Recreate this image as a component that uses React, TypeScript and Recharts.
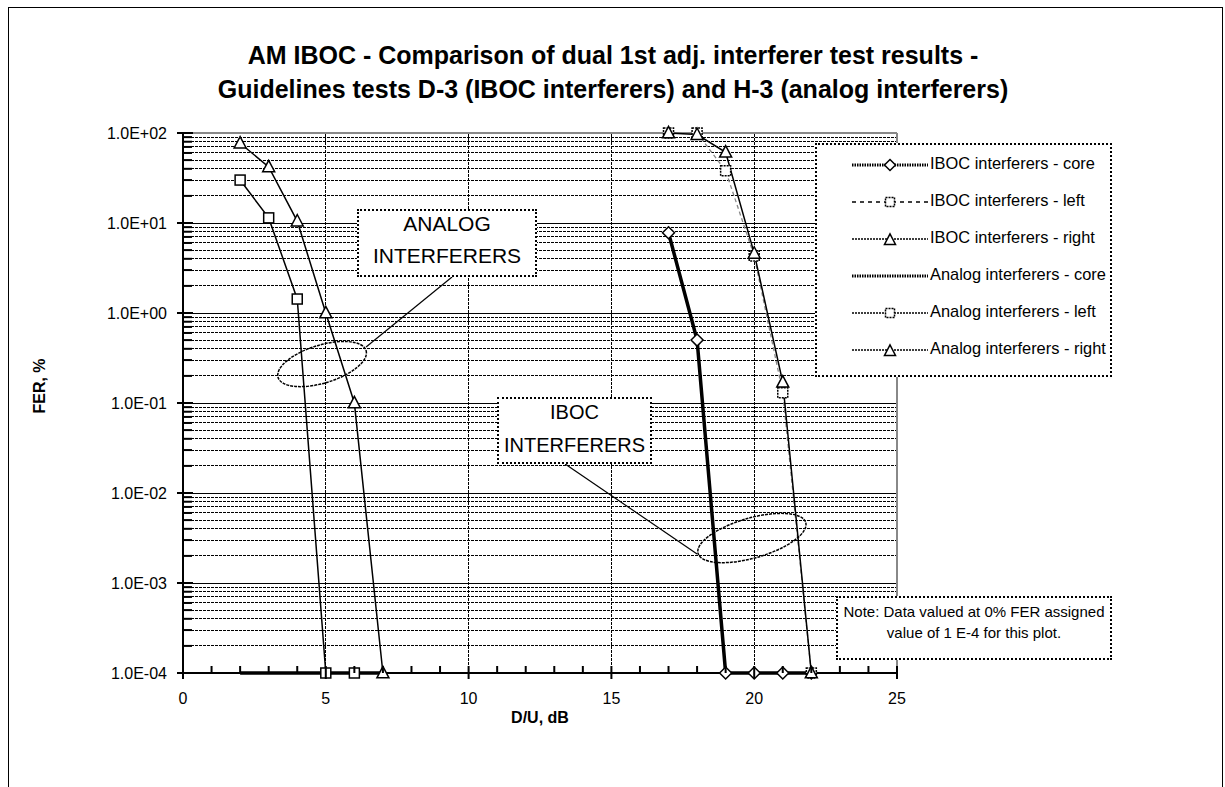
import React from 'react';
import { LineChart, Line, XAxis, YAxis, ReferenceLine, ReferenceDot } from 'recharts';

const FONT = '"Liberation Sans", Arial, Helvetica, sans-serif';

// ---- data ----
const xTicks = [0, 1, 2, 3, 4, 5, 6, 7, 8, 9, 10, 11, 12, 13, 14, 15, 16, 17, 18, 19, 20, 21, 22, 23, 24, 25];
const xLabelTicks = [0, 5, 10, 15, 20, 25];
const xGridTicks = [5, 10, 15, 20];
const yMajorTicks = [1e-4, 1e-3, 1e-2, 1e-1, 1, 10, 100];
const yMajorLabels = ['1.0E-04', '1.0E-03', '1.0E-02', '1.0E-01', '1.0E+00', '1.0E+01', '1.0E+02'];
const yMinorMultipliers = [2, 3, 4, 5, 6, 7, 8, 9];

const ibocX = [17, 18, 19, 20, 21, 22];
const ibocCoreY = [7.8, 0.5, 1e-4, 1e-4, 1e-4, 1e-4];
const ibocLeftY = [100, 100, 38, 4.3, 0.13, 1e-4];
const ibocRightY = [100, 96, 61, 4.6, 0.17, 1e-4];

const analogCoreX = [2, 3, 4, 5, 6, 7];
const analogCoreY = [1e-4, 1e-4, 1e-4, 1e-4, 1e-4, 1e-4];
const analogLeftX = [2, 3, 4, 5, 6];
const analogLeftY = [30, 11.4, 1.43, 1e-4, 1e-4];
const analogRightX = [2, 3, 4, 5, 6, 7];
const analogRightY = [77, 42, 10.5, 1.0, 0.1, 1e-4];

const legendLabels = [
  'IBOC interferers - core',
  'IBOC interferers - left',
  'IBOC interferers - right',
  'Analog interferers - core',
  'Analog interferers - left',
  'Analog interferers - right',
];

const zip = (xs: number[], ys: number[]) => xs.map((x, i) => ({ x, y: ys[i] }));

const ibocCore = zip(ibocX, ibocCoreY);
const ibocLeft = zip(ibocX, ibocLeftY);
const ibocRight = zip(ibocX, ibocRightY);
const analogCore = zip(analogCoreX, analogCoreY);
const analogLeft = zip(analogLeftX, analogLeftY);
const analogRight = zip(analogRightX, analogRightY);

const yMinorTicks: number[] = [];
yMajorTicks.slice(0, -1).forEach((d) => yMinorMultipliers.forEach((m) => yMinorTicks.push(d * m)));
const yAllTicks = [...yMajorTicks, ...yMinorTicks].sort((a, b) => a - b);

// ---- markers ----
const Square = ({ cx, cy, s = 10, dash }: any) => (
  <rect x={cx - s / 2} y={cy - s / 2} width={s} height={s} fill="#fff" stroke="#000" strokeWidth={1.5} strokeDasharray={dash} />
);
const Triangle = ({ cx, cy, s = 12 }: any) => (
  <polygon
    points={`${cx},${cy - s * 0.55} ${cx - s / 2},${cy + s * 0.4} ${cx + s / 2},${cy + s * 0.4}`}
    fill="#fff"
    stroke="#000"
    strokeWidth={1.5}
  />
);
const Diamond = ({ cx, cy, s = 12 }: any) => (
  <polygon
    points={`${cx},${cy - s / 2} ${cx + s / 2},${cy} ${cx},${cy + s / 2} ${cx - s / 2},${cy}`}
    fill="#fff"
    stroke="#000"
    strokeWidth={1.5}
  />
);

const dotFn = (Comp: any, extra: any = {}) => (p: any) => {
  if (p.cx == null || p.cy == null) return <g key={p.index} />;
  return <Comp key={p.index} cx={p.cx} cy={p.cy} {...extra} />;
};

// ---- ticks ----
const isMajor = (v: number) => {
  const l = Math.log10(v);
  return Math.abs(l - Math.round(l)) < 1e-6;
};

const YTick = (props: any) => {
  const { x, y, payload } = props;
  const v = payload.value;
  const major = isMajor(v);
  const idx = yMajorTicks.findIndex((t) => Math.abs(Math.log10(t) - Math.log10(v)) < 1e-6);
  return (
    <g>
      {major ? (
        <line x1={x - 6} x2={x + 10} y1={y} y2={y} stroke="#000" strokeWidth={2} />
      ) : (
        <line x1={x} x2={x + 9} y1={y} y2={y} stroke="#000" strokeWidth={2} />
      )}
      {major && (
        <text x={x - 16} y={y} dy={5.5} textAnchor="end" fontSize={16} fontFamily={FONT} fill="#000">
          {yMajorLabels[idx]}
        </text>
      )}
    </g>
  );
};

const XTick = (props: any) => {
  const { x, y, payload } = props;
  const v = payload.value;
  const major = xLabelTicks.includes(v);
  return (
    <g>
      {major ? (
        <line x1={x} x2={x} y1={y - 7} y2={y + 6} stroke="#000" strokeWidth={2} />
      ) : (
        <line x1={x} x2={x} y1={y - 7} y2={y} stroke="#000" strokeWidth={2} />
      )}
      {major && (
        <text x={x} y={y} dy={31} textAnchor="middle" fontSize={16} fontFamily={FONT} fill="#000">
          {v}
        </text>
      )}
    </g>
  );
};

const ellipseShape = (rx: number, ry: number, rot: number) => (p: any) => (
  <ellipse
    cx={p.cx}
    cy={p.cy}
    rx={rx}
    ry={ry}
    transform={`rotate(${rot} ${p.cx} ${p.cy})`}
    fill="none"
    stroke="#000"
    strokeWidth={1.5}
    strokeDasharray="3 1"
  />
);

// ---- legend ----
const LegendSample = ({ i }: { i: number }) => {
  const y = 10;
  const styles = [
    { w: 3, dash: '1.5 1', marker: 'diamond' },
    { w: 1.3, dash: '4 4', marker: 'square' },
    { w: 1.5, dash: '2 1', marker: 'triangle' },
    { w: 3, dash: '1.5 1', marker: '' },
    { w: 1.5, dash: '2 1', marker: 'square' },
    { w: 1.5, dash: '2 1', marker: 'triangle' },
  ][i];
  return (
    <svg width={80} height={20} style={{ position: 'absolute', left: 33, top: 20 + 37 * i - 10 }}>
      <line x1={2} x2={78} y1={y} y2={y} stroke="#000" strokeWidth={styles.w} strokeDasharray={styles.dash} />
      {styles.marker === 'diamond' && <Diamond cx={40} cy={y} s={11} />}
      {styles.marker === 'square' && <Square cx={40} cy={y} s={9} dash="2 1" />}
      {styles.marker === 'triangle' && <Triangle cx={40} cy={y + 1} s={11} />}
    </svg>
  );
};

export default function App() {
  return (
    <div style={{ position: 'relative', width: 1225, height: 787, background: '#fff', overflow: 'hidden', fontFamily: FONT }}>
      <style>{'html,body{margin:0;padding:0;overflow:hidden;background:#fff;}'}</style>
      <div
        style={{
          position: 'absolute',
          left: 8,
          top: 7,
          width: 1215,
          height: 900,
          border: '1px solid #000',
          boxSizing: 'border-box',
        }}
      />
      <div style={{ position: 'absolute', left: 0, width: 1226, top: 38, textAlign: 'center', fontSize: 25, fontWeight: 'bold', lineHeight: '34px', color: '#000' }}>
        AM IBOC - Comparison of dual 1st adj. interferer test results -
        <br />
        Guidelines tests D-3 (IBOC interferers) and H-3 (analog interferers)
      </div>

      <LineChart
        width={1225}
        height={787}
        margin={{ top: 133, right: 328, bottom: 54, left: 0 }}
        style={{ position: 'absolute', left: 0, top: 0 }}
      >
        <XAxis
          type="number"
          dataKey="x"
          domain={[0, 25]}
          ticks={xTicks}
          interval={0}
          tickSize={0}
          tickMargin={0}
          tick={<XTick />}
          tickLine={false}
          axisLine={{ stroke: '#000', strokeWidth: 2 }}
          height={60}
        />
        <YAxis
          type="number"
          dataKey="y"
          scale="log"
          domain={[1e-4, 100]}
          ticks={yAllTicks}
          interval={0}
          tickSize={0}
          tickMargin={0}
          tick={<YTick />}
          tickLine={false}
          axisLine={{ stroke: '#000', strokeWidth: 2 }}
          width={183}
        />

        {yMinorTicks.map((v) => (
          <ReferenceLine key={'mn' + v} y={v} stroke="#000" strokeWidth={1} strokeDasharray="3 1" shapeRendering="crispEdges" />
        ))}
        {yMajorTicks.slice(0, -1).map((v) => (
          <ReferenceLine key={'mj' + v} y={v} stroke="#000" strokeWidth={1} shapeRendering="crispEdges" />
        ))}
        {xGridTicks.map((v) => (
          <ReferenceLine key={'xg' + v} x={v} stroke="#000" strokeWidth={1} strokeDasharray="3 1" shapeRendering="crispEdges" />
        ))}
        <ReferenceLine y={100} stroke="#888" strokeWidth={2} />
        <ReferenceLine x={25} stroke="#888" strokeWidth={2} />

        <ReferenceDot x={4.87} y={0.271} r={0} shape={ellipseShape(46, 19, -17)} />
        <ReferenceLine segment={[{ x: 6.41, y: 0.419 }, { x: 9.42, y: 2.51 }]} stroke="#000" strokeWidth={1.2} />
        <ReferenceDot x={19.92} y={0.00316} r={0} shape={ellipseShape(56, 20, -16)} />
        <ReferenceLine segment={[{ x: 13.38, y: 0.021 }, { x: 18.0, y: 0.0021 }]} stroke="#000" strokeWidth={1.2} />

        <Line data={analogCore} dataKey="y" stroke="#000" strokeWidth={3.5} dot={false} isAnimationActive={false} />
        <Line data={analogLeft} dataKey="y" stroke="#000" strokeWidth={1.5} dot={dotFn(Square)} isAnimationActive={false} />
        <Line data={analogRight} dataKey="y" stroke="#000" strokeWidth={1.5} dot={dotFn(Triangle)} isAnimationActive={false} />
        <Line data={ibocCore} dataKey="y" stroke="#000" strokeWidth={3.5} dot={dotFn(Diamond)} isAnimationActive={false} />
        <Line data={ibocLeft} dataKey="y" stroke="#888" strokeWidth={1.3} strokeDasharray="4 3" dot={dotFn(Square, { dash: '2 1' })} isAnimationActive={false} />
        <Line data={ibocRight} dataKey="y" stroke="#000" strokeWidth={1.5} dot={dotFn(Triangle)} isAnimationActive={false} />
      </LineChart>

      {/* axis titles */}
      <div
        style={{
          position: 'absolute',
          left: 40,
          top: 386,
          transform: 'translate(-50%,-50%) rotate(-90deg)',
          fontSize: 16,
          fontWeight: 'bold',
          whiteSpace: 'nowrap',
        }}
      >
        FER, %
      </div>
      <div style={{ position: 'absolute', left: 540, top: 718, transform: 'translate(-50%,-50%)', fontSize: 16, fontWeight: 'bold', whiteSpace: 'nowrap' }}>
        D/U, dB
      </div>

      {/* annotation boxes */}
      <div style={{ position: 'absolute', left: 357, top: 209, width: 180, height: 68, border: '2px dotted #000', boxSizing: 'border-box', background: '#fff' }}>
        <div style={{ position: 'absolute', left: -20, right: -20, top: -3, textAlign: 'center', fontSize: 21, lineHeight: '32px', whiteSpace: 'nowrap' }}>
          ANALOG
          <br />
          INTERFERERS
        </div>
      </div>
      <div style={{ position: 'absolute', left: 497, top: 397, width: 155, height: 67, border: '2px dotted #000', boxSizing: 'border-box', background: '#fff' }}>
        <div style={{ position: 'absolute', left: -20, right: -20, top: -3, textAlign: 'center', fontSize: 20, lineHeight: '33px', whiteSpace: 'nowrap' }}>
          IBOC
          <br />
          INTERFERERS
        </div>
      </div>

      {/* legend */}
      <div style={{ position: 'absolute', left: 815, top: 143, width: 297, height: 234, border: '2px dotted #000', boxSizing: 'border-box', background: '#fff' }}>
        {legendLabels.map((l, i) => (
          <React.Fragment key={l}>
            <LegendSample i={i} />
            <div style={{ position: 'absolute', left: 113, top: 20 + 37 * i - 2 - 11, fontSize: 16.4, lineHeight: '22px', whiteSpace: 'nowrap' }}>{l}</div>
          </React.Fragment>
        ))}
      </div>

      {/* note */}
      <div style={{ position: 'absolute', left: 836, top: 596, width: 276, height: 64, border: '2px dotted #000', boxSizing: 'border-box', background: '#fff' }}>
        <div style={{ position: 'absolute', left: -10, right: -10, top: 3, textAlign: 'center', fontSize: 15, lineHeight: '21px', whiteSpace: 'nowrap' }}>
          Note: Data valued at 0% FER assigned
          <br />
          value of 1 E-4 for this plot.
        </div>
      </div>
    </div>
  );
}
